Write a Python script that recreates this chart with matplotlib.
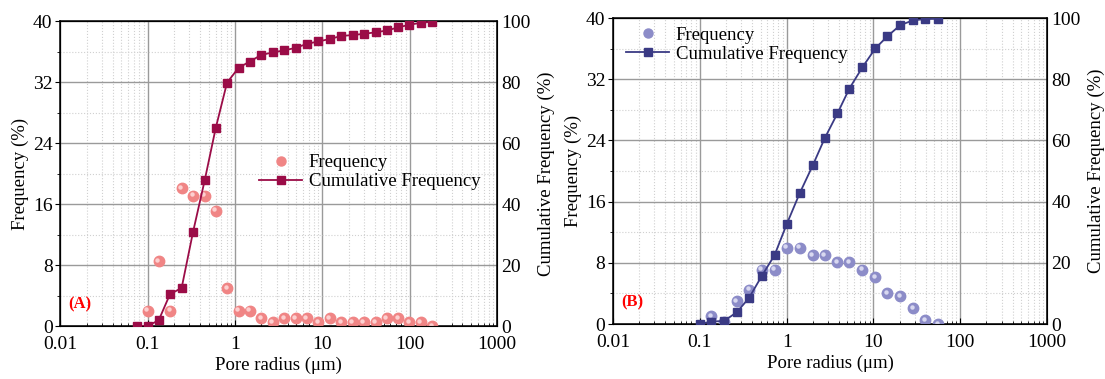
import numpy as np
from matplotlib import pyplot as plt
from matplotlib.lines import Line2D
from matplotlib.ticker import FixedLocator, LogLocator, NullFormatter, MultipleLocator
from matplotlib.transforms import ScaledTranslation

# panel A data
radius_a = [0.075, 0.1, 0.134, 0.18, 0.245, 0.33, 0.45, 0.6, 0.81, 1.1, 1.47, 2.0, 2.7,
            3.67, 4.94, 6.6, 8.97, 12.1, 16.4, 22.1, 29.8, 40.5, 54.6, 73.4, 98.9, 133.6, 181]
freq_a = [np.nan, 2.0, 8.5, 2.0, 18.1, 17.1, 17.1, 15.1, 5.0, 2.0, 2.0, 1.0, 0.5,
          1.0, 1.0, 1.0, 0.5, 1.0, 0.5, 0.5, 0.5, 0.5, 1.0, 1.0, 0.5, 0.5, 0.0]
cum_a = [0.0, 0.0, 1.9, 10.4, 12.5, 30.7, 47.8, 64.8, 79.8, 84.7, 86.7, 88.9, 89.7,
         90.4, 91.2, 92.5, 93.3, 94.1, 95.1, 95.4, 95.8, 96.3, 96.9, 97.9, 98.8, 99.4, 99.8]

# panel B data
radius_b = [0.1, 0.135, 0.19, 0.265, 0.368, 0.514, 0.725, 1.0, 1.41, 2.0, 2.74, 3.85,
            5.28, 7.44, 10.5, 14.5, 20.3, 28.6, 39.7, 55.4]
freq_b = [np.nan, 1.0, 0.3, 3.0, 4.5, 7.1, 7.1, 10.0, 10.0, 9.0, 9.0, 8.1,
          8.1, 7.1, 6.1, 4.0, 3.6, 2.05, 0.5, 0.0]
cum_b = [0.0, 0.8, 1.0, 3.8, 8.5, 15.6, 22.5, 32.6, 42.7, 51.9, 60.7, 68.9,
         77.0, 83.9, 90.1, 94.1, 97.7, 99.3, 99.7, 99.8]

x_ticks = [0.01, 0.1, 1, 10, 100, 1000]
x_labels = ["0.01", "0.1", "1", "10", "100", "1000"]

plt.rcParams["font.family"] = ["Liberation Serif", "DejaVu Serif"]

TICK_FS = 14
LABEL_FS = 13.5


def panel(fig, rect, radius, freq, cum, dot_color, hi_color, line_color, tag, legend_kw):
    ax = fig.add_axes(rect)
    ax.set_xscale("log")
    ax.set_xlim(0.01, 1000)
    ax.set_ylim(0, 40)
    ax.xaxis.set_major_locator(FixedLocator(x_ticks))
    ax.set_xticklabels(x_labels)
    ax.xaxis.set_minor_locator(LogLocator(base=10, subs=np.arange(2, 10), numticks=20))
    ax.xaxis.set_minor_formatter(NullFormatter())
    ax.yaxis.set_major_locator(MultipleLocator(8))
    ax.yaxis.set_minor_locator(MultipleLocator(4))
    ax.grid(True, which="major", color="#9a9a9a", linestyle="-", linewidth=1.0)
    ax.grid(True, which="minor", color="#d0d0d0", linestyle=":", linewidth=0.8)
    ax.set_axisbelow(True)
    ax.tick_params(axis="x", which="both", direction="in", labelsize=TICK_FS, pad=7)
    ax.tick_params(axis="x", which="major", length=4)
    ax.tick_params(axis="x", which="minor", length=2.5)
    ax.tick_params(axis="y", which="both", direction="out", labelsize=TICK_FS, pad=2)
    ax.tick_params(axis="y", which="minor", length=2)
    for s in ax.spines.values():
        s.set_linewidth(1.1)

    ax2 = ax.twinx()
    ax2.set_ylim(0, 100)
    ax2.yaxis.set_major_locator(MultipleLocator(20))
    ax2.tick_params(axis="y", direction="out", labelsize=TICK_FS, length=0, pad=3)

    # sphere-like dots: base + small highlight
    ax.plot(radius, freq, linestyle="none", marker="o", markersize=7.5,
            markerfacecolor=dot_color, markeredgecolor=dot_color, zorder=3, clip_on=True)
    hi = ax.transData + ScaledTranslation(-1.0 / 72, 1.0 / 72, fig.dpi_scale_trans)
    ax.plot(radius, freq, linestyle="none", marker="o", markersize=3.2,
            markerfacecolor=hi_color, markeredgecolor="none", transform=hi, zorder=4)

    ax2.plot(radius, cum, color=line_color, linewidth=1.3, marker="s", markersize=6,
             markerfacecolor=line_color, markeredgecolor=line_color, zorder=5)

    ax.set_xlabel("Pore radius (μm)", fontsize=LABEL_FS, labelpad=3)
    ax.set_ylabel("Frequency (%)", fontsize=LABEL_FS, labelpad=3)
    ax2.set_ylabel("Cumulative Frequency (%)", fontsize=LABEL_FS, labelpad=5)

    ax.text(0.018, 0.07, tag, transform=ax.transAxes, color="red",
            fontsize=12, fontweight="bold", va="center", ha="left")

    handles = [
        Line2D([], [], linestyle="none", marker="o", markersize=6.5,
               markerfacecolor=dot_color, markeredgecolor=dot_color),
        Line2D([], [], color=line_color, linewidth=1.3, marker="s", markersize=6,
               markerfacecolor=line_color, markeredgecolor=line_color),
    ]
    ax2.legend(handles, ["Frequency", "Cumulative Frequency"], frameon=False,
               fontsize=13.5, handlelength=2.3, handletextpad=0.35, labelspacing=0.1,
               borderpad=0.2, **legend_kw)
    return ax, ax2


fig = plt.figure(figsize=(11.05, 3.79), dpi=100)

panel(fig, [0.0545, 0.1398, 0.3955, 0.8047], radius_a, freq_a, cum_a,
      "#f08585", "#fcd0d0", "#9b0c47", "(A)",
      dict(loc="center left", bbox_to_anchor=(0.425, 0.505)))

panel(fig, [0.5548, 0.1451, 0.3928, 0.807], radius_b, freq_b, cum_b,
      "#8c8cc8", "#d8d8f0", "#3a3a84", "(B)",
      dict(loc="upper left", bbox_to_anchor=(0.0, 1.015)))

plt.savefig("out.png", dpi=100)
